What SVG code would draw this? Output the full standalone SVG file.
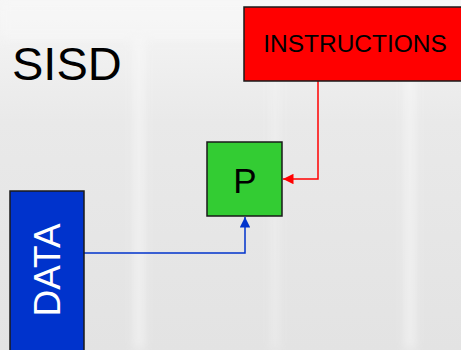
<svg xmlns="http://www.w3.org/2000/svg" width="461" height="350" viewBox="0 0 461 350">
  <defs>
    <linearGradient id="bg" x1="0" y1="0" x2="0" y2="1">
      <stop offset="0" stop-color="#f6f6f6"/>
      <stop offset="0.35" stop-color="#e9e9e9"/>
      <stop offset="1" stop-color="#e3e3e3"/>
    </linearGradient>
    <filter id="soft" x="-20%" y="-20%" width="140%" height="140%">
      <feGaussianBlur stdDeviation="5"/>
    </filter>
    <marker id="arrRed" viewBox="0 0 10 10" refX="10" refY="5" markerWidth="7" markerHeight="7" orient="auto-start-reverse" markerUnits="strokeWidth">
      <path d="M0,0 L10,5 L0,10 z" fill="#ff0000"/>
    </marker>
    <marker id="arrBlue" viewBox="0 0 10 10" refX="10" refY="5" markerWidth="7" markerHeight="7" orient="auto-start-reverse" markerUnits="strokeWidth">
      <path d="M0,0 L10,5 L0,10 z" fill="#0033cc"/>
    </marker>
    <style>
      .box { stroke: #1a1a1a; stroke-width: 1.5; }
      .lbl { font-family: "Liberation Sans", Arial, sans-serif; text-anchor: middle; }
      .wire { fill: none; stroke-width: 1.5; }
    </style>
  </defs>

  <!-- soft textured backdrop -->
  <rect width="461" height="350" fill="url(#bg)"/>
  <g filter="url(#soft)" opacity="0.55">
    <rect x="134" y="0" width="10" height="350" fill="#fbfbfb"/>
    <rect x="272" y="0" width="6" height="350" fill="#f6f6f6"/>
    <rect x="405" y="0" width="10" height="350" fill="#fbfbfb"/>
    <rect x="0" y="0" width="461" height="40" fill="#f8f8f8"/>
  </g>

  <text x="12" y="80" class="lbl" style="text-anchor:start" font-size="47" fill="#000">SISD</text>

  <!-- connectors -->
  <g id="connectors">
    <polyline class="wire" points="318,81 318,179 283,179" stroke="#ff0000" marker-end="url(#arrRed)"/>
    <polyline class="wire" points="84,253 245,253 245,217" stroke="#0033cc" marker-end="url(#arrBlue)"/>
  </g>

  <g id="instructions">
    <rect class="box" x="244" y="7" width="230" height="74" fill="#ff0000"/>
    <text x="355" y="52" class="lbl" font-size="24.5" fill="#000">INSTRUCTIONS</text>
  </g>

  <g id="processor">
    <rect class="box" x="207" y="142" width="75" height="74" fill="#33cc33"/>
    <text x="245" y="193" class="lbl" font-size="35" fill="#000">P</text>
  </g>

  <g id="data">
    <rect class="box" x="10" y="191" width="74" height="170" fill="#0033cc"/>
    <text x="0" y="0" class="lbl" font-size="37" fill="#ffffff" transform="translate(60,270) rotate(-90)">DATA</text>
  </g>
</svg>
